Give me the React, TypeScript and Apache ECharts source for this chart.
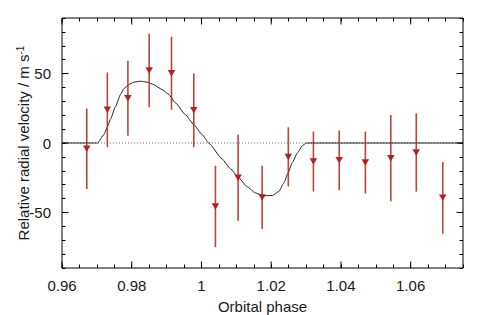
import React, { useEffect, useRef } from 'react';
import * as echarts from 'echarts';

// Observed data (orbital phase, relative RV, 1-sigma error)
const phase = [0.9671, 0.973, 0.9789, 0.985, 0.9914, 0.9978, 1.004, 1.0105, 1.0174, 1.0249, 1.0321, 1.0395, 1.047, 1.0543, 1.0616, 1.0692];
const rv = [-4.2, 23.9, 32.2, 52.2, 50.2, 23.5, -45.7, -25, -39.2, -10, -13.4, -12.5, -14.1, -10.9, -6.8, -39.5];
const rvErr = [29, 26.9, 27, 26.5, 26.3, 26.5, 29.3, 31, 22.8, 21.3, 21.6, 21.5, 22.3, 31, 28.2, 25.8];

// Model curve
const modelPhase = [0.96, 0.9702, 0.972, 0.9729, 0.9739, 0.9753, 0.9768, 0.9777, 0.9791, 0.9806, 0.9825, 0.9844, 0.9863, 0.9887, 0.9906, 0.9925, 0.9954, 0.9978, 1.0002, 1.0021, 1.0059, 1.0083, 1.0105, 1.0131, 1.0155, 1.0179, 1.0203, 1.0222, 1.0236, 1.0248, 1.026, 1.0275, 1.0289, 1.0301, 1.075];
const modelRv = [0, 0, 6, 11, 17, 26, 35, 39, 42, 43.8, 44.5, 43.8, 42, 38.5, 35, 29, 20.4, 13.2, 6, 0, -11.5, -18.5, -24.5, -31.5, -36, -38, -37.8, -34.9, -28.9, -21.7, -14.4, -7.2, -1.9, 0, 0];

// Axes
const X_MIN = 0.96;
const X_MAX = 1.075;
const Y_MIN = -90;
const Y_MAX = 90;
const xMajorTicks = [0.96, 0.98, 1.0, 1.02, 1.04, 1.06];
const yMajorTicks = [-50, 0, 50];

const FONT = '"Liberation Sans", Arial, Helvetica, sans-serif';
const RED = '#b22222';
const TXT = '#1a1a1a';

const isMajor = (v: number, step: number) => Math.abs(v / step - Math.round(v / step)) < 1e-6;

export default function App() {
  const ref = useRef<HTMLDivElement>(null);
  useEffect(() => {
    if (!ref.current) return;
    const chart = echarts.init(ref.current, null, { renderer: 'svg' });
    const minorTick = { show: true, inside: true, length: 3.5, lineStyle: { color: '#000', width: 1 } };
    const xBase = {
      type: 'value' as const,
      min: X_MIN,
      max: X_MAX,
      interval: 0.005,
      axisLine: { show: false, onZero: false },
      axisTick: minorTick,
      splitLine: { show: false },
    };
    const yBase = {
      type: 'value' as const,
      min: Y_MIN,
      max: Y_MAX,
      interval: 10,
      axisLine: { show: false, onZero: false },
      axisTick: minorTick,
      splitLine: { show: false },
    };
    chart.setOption({
      animation: false,
      grid: {
        left: 62,
        right: 28,
        top: 18,
        bottom: 47,
        outerBoundsMode: 'none',
        containLabel: false,
        show: true,
        borderColor: '#000',
        borderWidth: 1,
        backgroundColor: 'transparent',
      },
      xAxis: [
        {
          ...xBase,
          position: 'bottom',
          name: 'Orbital phase',
          nameLocation: 'middle',
          nameMoveOverlap: false,
          nameGap: 31,
          nameTextStyle: { fontSize: 15, color: TXT, fontFamily: FONT },
          axisLabel: {
            margin: 10,
            fontSize: 15,
            color: TXT,
            fontFamily: FONT,
            formatter: (v: number) => (isMajor(v, 0.02) && v < 1.07 ? String(+v.toFixed(2)) : ''),
          },
        },
        { ...xBase, position: 'top', axisLabel: { show: false } },
      ],
      yAxis: [
        {
          ...yBase,
          position: 'left',
          name: 'Relative radial velocity / m s{sup|-1}',
          nameLocation: 'middle',
          nameMoveOverlap: false,
          nameGap: 31,
          nameRotate: 90,
          nameTextStyle: {
            fontSize: 15,
            color: TXT,
            fontFamily: FONT,
            rich: { sup: { fontSize: 10, color: TXT, fontFamily: FONT, verticalAlign: 'top', padding: [0, 0, 6, 0] } },
          },
          axisLabel: {
            margin: 11,
            fontSize: 15,
            color: TXT,
            fontFamily: FONT,
            formatter: (v: number) => (isMajor(v, 50) && Math.abs(v) < 80 ? String(Math.round(v)) : ''),
          },
        },
        { ...yBase, position: 'right', axisLabel: { show: false } },
      ],
      series: [
        {
          type: 'line',
          data: [[X_MIN, 0], [X_MAX, 0]],
          showSymbol: false,
          silent: true,
          lineStyle: { color: '#777', width: 1, type: [1, 2] },
          z: 1,
        },
        {
          type: 'line',
          data: modelPhase.map((p, i) => [p, modelRv[i]]),
          showSymbol: false,
          smooth: 0.15,
          smoothMonotone: 'x',
          lineStyle: { color: '#222', width: 1 },
          z: 2,
        },
        {
          type: 'custom',
          data: phase.map((p, i) => [p, rv[i] - rvErr[i], rv[i] + rvErr[i]]),
          encode: { x: 0, y: [1, 2] },
          renderItem: (params: any, api: any) => {
            const lo = api.coord([api.value(0), api.value(1)]);
            const hi = api.coord([api.value(0), api.value(2)]);
            return {
              type: 'line',
              shape: { x1: lo[0], y1: lo[1], x2: hi[0], y2: hi[1] },
              style: { stroke: RED, lineWidth: 1.6, opacity: 0.85 },
            };
          },
          z: 3,
        },
        {
          type: 'scatter',
          data: phase.map((p, i) => [p, rv[i]]),
          symbol: 'triangle',
          symbolRotate: 180,
          symbolSize: [7.5, 6.5],
          itemStyle: { color: RED, opacity: 1 },
          z: 4,
        },
        {
          type: 'custom',
          data: xMajorTicks.map((v) => [v, 0]),
          clip: false,
          silent: true,
          renderItem: (params: any, api: any) => {
            const b = api.coord([api.value(0), Y_MIN]);
            const t = api.coord([api.value(0), Y_MAX]);
            return {
              type: 'group',
              children: [
                { type: 'line', shape: { x1: b[0], y1: b[1], x2: b[0], y2: b[1] - 6.5 }, style: { stroke: '#000', lineWidth: 1 } },
                { type: 'line', shape: { x1: t[0], y1: t[1], x2: t[0], y2: t[1] + 6.5 }, style: { stroke: '#000', lineWidth: 1 } },
              ],
            };
          },
          z: 5,
        },
        {
          type: 'custom',
          data: yMajorTicks.map((v) => [X_MIN, v]),
          clip: false,
          silent: true,
          renderItem: (params: any, api: any) => {
            const l = api.coord([X_MIN, api.value(1)]);
            const r = api.coord([X_MAX, api.value(1)]);
            return {
              type: 'group',
              children: [
                { type: 'line', shape: { x1: l[0], y1: l[1], x2: l[0] + 6.5, y2: l[1] }, style: { stroke: '#000', lineWidth: 1 } },
                { type: 'line', shape: { x1: r[0], y1: r[1], x2: r[0] - 6.5, y2: r[1] }, style: { stroke: '#000', lineWidth: 1 } },
              ],
            };
          },
          z: 5,
        },
      ],
    });
    return () => chart.dispose();
  }, []);
  return <div ref={ref} style={{ position: 'absolute', left: 0, top: 0, width: 491, height: 315 }} />;
}
